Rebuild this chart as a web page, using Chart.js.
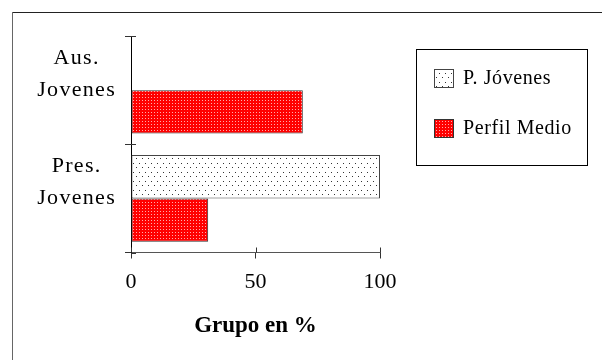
<!DOCTYPE html>
<html>
<head>
<meta charset="utf-8">
<script src="https://cdn.jsdelivr.net/npm/chart.js@4"></script>
<style>
  html, body { margin: 0; padding: 0; background: #fff; }
  #grafico { display: block; }
</style>
</head>
<body>
<canvas id="grafico" width="602" height="360"></canvas>
<script>
// Datos
const categorias = [['Aus.', 'Jovenes'], ['Pres.', 'Jovenes']];
const series = ['P. Jóvenes', 'Perfil Medio'];
const pJovenes = [0, 100];
const perfilMedio = [69, 31];
const tituloX = 'Grupo en %';

const fuente = 'Liberation Serif, Times New Roman, serif';

// Tramas de relleno
function trama(w, h, fondo, color, puntos) {
    const c = document.createElement('canvas');
    c.width = w;
    c.height = h;
    const g = c.getContext('2d');
    g.fillStyle = fondo;
    g.fillRect(0, 0, w, h);
    g.fillStyle = color;
    puntos.forEach(p => g.fillRect(p[0], p[1], 1, 1));
    return g.createPattern(c, 'repeat');
}

const tramaPuntos = trama(6, 9, '#ffffff', '#333333', [[1, 1], [4, 5]]);
const tramaRoja = trama(3, 3, '#ff0000', '#ffaaaa', [[1, 1]]);

// espaciado de letras solo para las etiquetas del eje y (se dibujan con z 1)
const espaciado = {
    id: 'espaciado',
    beforeUpdate(chart) { chart.ctx.letterSpacing = '1.3px'; },
    afterLayout(chart) { chart.ctx.letterSpacing = '0px'; },
    beforeDraw(chart) { chart.ctx.letterSpacing = '0px'; },
    afterDatasetsDraw(chart) { chart.ctx.letterSpacing = '1.3px'; }
};

// Marco exterior, marcas cruzadas y leyenda
const extras = {
    id: 'extras',
    afterDraw(chart) {
        const ctx = chart.ctx;
        const area = chart.chartArea;
        ctx.save();

        // marco
        ctx.lineWidth = 1;
        ctx.strokeStyle = '#222';
        ctx.beginPath();
        ctx.moveTo(12, 12.5);
        ctx.lineTo(602, 12.5);
        ctx.stroke();
        ctx.strokeStyle = '#666';
        ctx.beginPath();
        ctx.moveTo(12.5, 12);
        ctx.lineTo(12.5, 360);
        ctx.stroke();

        // parte interior de las marcas
        ctx.strokeStyle = '#333';
        const x = chart.scales.x;
        x.ticks.forEach((t, i) => {
            const px = Math.round(x.getPixelForTick(i)) + 0.5;
            ctx.beginPath();
            ctx.moveTo(px, area.bottom - 5);
            ctx.lineTo(px, area.bottom);
            ctx.stroke();
        });
        const y = chart.scales.y;
        const paso = (y.bottom - y.top) / y.ticks.length;
        for (let i = 0; i <= y.ticks.length; i++) {
            const py = Math.round(y.top + i * paso) + 0.5;
            ctx.beginPath();
            ctx.moveTo(area.left, py);
            ctx.lineTo(area.left + 5, py);
            ctx.stroke();
        }

        // leyenda
        ctx.letterSpacing = '0.6px';
        ctx.strokeStyle = '#000';
        ctx.strokeRect(416.5, 49.5, 171, 116);
        ctx.font = '20px ' + fuente;
        ctx.textBaseline = 'middle';
        chart.data.datasets.forEach((ds, i) => {
            const top = 69 + i * 50;
            ctx.fillStyle = ds.backgroundColor;
            ctx.fillRect(434, top, 20, 19);
            ctx.strokeStyle = ds.borderColor;
            ctx.strokeRect(434.5, top + 0.5, 19, 18);
            ctx.fillStyle = '#000';
            ctx.fillText(ds.label, 463, top + 10);
        });
        ctx.restore();
        ctx.letterSpacing = '0px';
    }
};

new Chart(document.getElementById('grafico'), {
    type: 'bar',
    data: {
        labels: categorias,
        datasets: [{
            label: series[0],
            data: pJovenes,
            backgroundColor: tramaPuntos,
            borderColor: '#444',
            borderWidth: 1,
            borderSkipped: false,
            barPercentage: 1,
            categoryPercentage: 0.8
        }, {
            label: series[1],
            data: perfilMedio,
            backgroundColor: tramaRoja,
            borderColor: '#333',
            borderWidth: 1,
            borderSkipped: false,
            barPercentage: 1,
            categoryPercentage: 0.8
        }]
    },
    options: {
        indexAxis: 'y',
        responsive: false,
        animation: false,
        devicePixelRatio: 1,
        layout: {
            padding: { top: 36, right: 222, bottom: 20.5, left: 0 }
        },
        plugins: {
            legend: { display: false },
            tooltip: { enabled: false }
        },
        scales: {
            x: {
                min: 0,
                max: 100,
                ticks: {
                    stepSize: 50,
                    padding: 11,
                    z: 0,
                    color: '#000',
                    font: { family: fuente, size: 22 }
                },
                grid: {
                    drawOnChartArea: false,
                    tickLength: 6,
                    color: '#333'
                },
                border: { color: '#555' },
                title: {
                    display: true,
                    text: tituloX,
                    color: '#000',
                    padding: { top: 5, bottom: 0 },
                    font: { family: fuente, size: 23, weight: 'bold' }
                }
            },
            y: {
                afterFit: scale => {
                    scale.width = 131;
                    scale.paddingTop = 0;
                    scale.paddingBottom = 0;
                },
                ticks: {
                    padding: 9,
                    labelOffset: -16,
                    crossAlign: 'center',
                    z: 1,
                    color: '#000',
                    font: { family: fuente, size: 22, lineHeight: 1.43 }
                },
                grid: {
                    drawOnChartArea: false,
                    tickLength: 6,
                    color: '#333'
                },
                border: { color: '#000' }
            }
        }
    },
    plugins: [espaciado, extras]
});
</script>
</body>
</html>
